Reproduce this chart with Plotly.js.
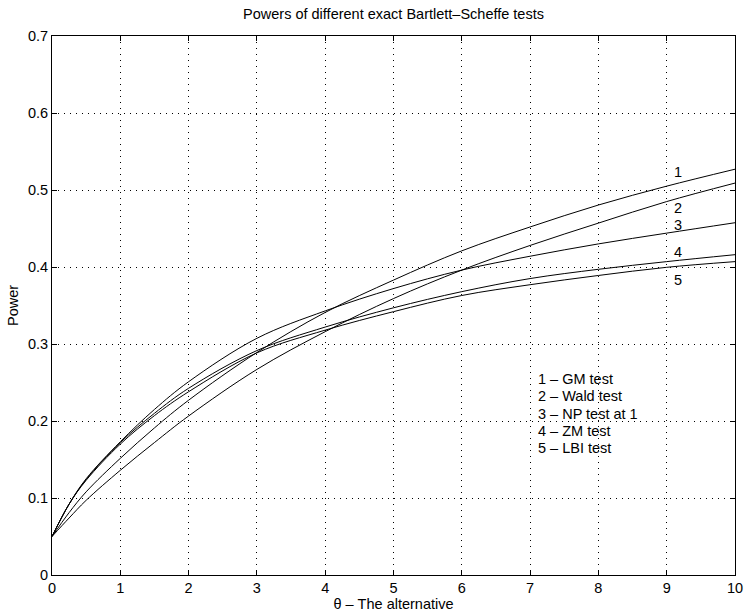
<!DOCTYPE html>
<html>
<head>
<meta charset="utf-8">
<script src="https://cdn.plot.ly/plotly-3.0.1.min.js"></script>
<style>html,body{margin:0;padding:0;background:#fff;}#chart{width:746px;height:613px;}</style>
</head>
<body>
<div id="chart"></div>
<script>
// ---- data ----
const theta = [0, 0.25, 0.5, 1, 1.5, 2, 3, 4, 5, 6, 7, 8, 9, 10];
const gmTest   = [0.05, 0.081, 0.108, 0.1515, 0.191, 0.227, 0.289, 0.341, 0.383, 0.421, 0.452, 0.4805, 0.505, 0.527];
const waldTest = [0.05, 0.074, 0.097, 0.136, 0.172, 0.2065, 0.267, 0.316, 0.359, 0.396, 0.428, 0.457, 0.485, 0.509];
const npTest   = [0.05, 0.092, 0.125, 0.173, 0.215, 0.251, 0.3074, 0.343, 0.372, 0.396, 0.414, 0.430, 0.444, 0.4575];
const zmTest   = [0.05, 0.092, 0.124, 0.172, 0.210, 0.2425, 0.2915, 0.322, 0.347, 0.368, 0.385, 0.397, 0.407, 0.416];
const lbiTest  = [0.05, 0.092, 0.123, 0.170, 0.207, 0.238, 0.2885, 0.318, 0.342, 0.363, 0.377, 0.389, 0.3996, 0.407];
const seriesNames = ['GM test', 'Wald test', 'NP test at 1', 'ZM test', 'LBI test'];
const curveLabels = ['1', '2', '3', '4', '5'];
const curveLabelX = [9.16, 9.16, 9.16, 9.16, 9.16];
const curveLabelY = [0.524, 0.476, 0.455, 0.419, 0.383];
const keyLines = ['1 \u2013 GM test', '2 \u2013 Wald test', '3 \u2013 NP test at 1', '4 \u2013 ZM test', '5 \u2013 LBI test'];
const keyX = 7.08;
const keyY = [0.2545, 0.232, 0.2095, 0.187, 0.1645];
const xTicks = [0, 1, 2, 3, 4, 5, 6, 7, 8, 9, 10];
const yTicks = [0, 0.1, 0.2, 0.3, 0.4, 0.5, 0.6, 0.7];

const FONT = 'Liberation Sans, Arial, Helvetica, sans-serif';
const FS = 14.5;
const allSeries = [gmTest, waldTest, npTest, zmTest, lbiTest];

const traces = allSeries.map((ys, i) => ({
  x: theta, y: ys, type: 'scatter', mode: 'lines', name: seriesNames[i],
  line: {color: '#000', width: 1, shape: 'spline', smoothing: 1},
  hoverinfo: 'x+y+name'
}));

const annotations = [];
curveLabels.forEach((t, i) => annotations.push({
  x: curveLabelX[i], y: curveLabelY[i], xref: 'x', yref: 'y', text: t,
  showarrow: false, xanchor: 'center', yanchor: 'middle',
  font: {family: FONT, size: FS, color: '#000'}
}));
keyLines.forEach((t, i) => annotations.push({
  x: keyX, y: keyY[i], xref: 'x', yref: 'y', text: t,
  showarrow: false, xanchor: 'left', yanchor: 'middle',
  font: {family: FONT, size: FS, color: '#000'}
}));

const axisCommon = {
  showline: true, linecolor: '#000', linewidth: 1, mirror: 'ticks',
  ticks: 'inside', ticklen: 5, tickcolor: '#000', tickwidth: 1,
  showgrid: true, gridcolor: '#000', gridwidth: 1, griddash: '1px,5px',
  zeroline: false, tickfont: {family: FONT, size: FS, color: '#000'},
  automargin: false
};

const layout = {
  width: 746, height: 613,
  margin: {l: 52, r: 11, t: 36, b: 38},
  paper_bgcolor: '#fff', plot_bgcolor: '#fff',
  showlegend: false,
  title: {text: 'Powers of different exact Bartlett\u2013Scheffe tests',
          x: 0.5, xref: 'paper', xanchor: 'center', y: 0.977, yref: 'container', yanchor: 'middle',
          font: {family: FONT, size: FS, color: '#000'}},
  xaxis: Object.assign({}, axisCommon, {
    range: [0, 10], tickvals: xTicks, ticktext: xTicks.map(String),
    title: {text: '\u03b8 \u2013 The alternative', standoff: 0, font: {family: FONT, size: FS, color: '#000'}}
  }),
  yaxis: Object.assign({}, axisCommon, {
    range: [0, 0.7], tickvals: yTicks, ticktext: yTicks.map(v => v === 0 ? '0' : v.toFixed(1)),
    title: {text: 'Power', standoff: 5, font: {family: FONT, size: FS, color: '#000'}}
  }),
  annotations: annotations
};

Plotly.newPlot('chart', traces, layout, {displayModeBar: false, staticPlot: true});
</script>
</body>
</html>
